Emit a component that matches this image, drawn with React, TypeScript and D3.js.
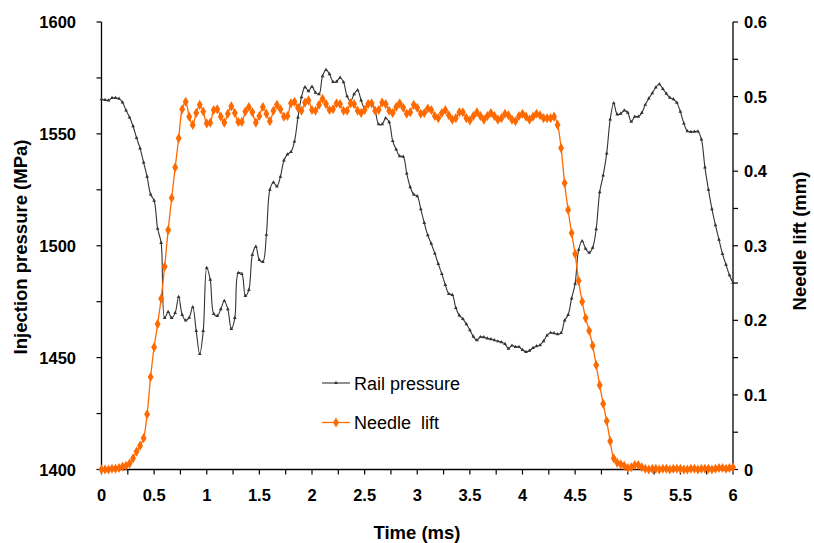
import React from "react";
import * as d3 from "d3";

// sampling interval of both traces (ms)
const timeStepMs = 1 / 30;

// Rail pressure (MPa), one value per sample
const railPressure = [
  1565.5, 1565.2, 1565.0, 1566.1, 1566.1, 1565.7, 1564.1, 1560.5, 1557.4, 1553.4,
  1548.2, 1543.5, 1537.2, 1530.9, 1522.9, 1520.2, 1507.6, 1501.3, 1467.7, 1470.4,
  1467.7, 1470.0, 1477.1, 1469.1, 1466.6, 1467.9, 1472.6, 1461.9, 1451.6, 1461.9,
  1490.1, 1484.8, 1469.5, 1468.6, 1471.7, 1475.3, 1471.7, 1462.8, 1467.7, 1487.9,
  1487.4, 1477.6, 1480.3, 1496.0, 1499.6, 1493.7, 1492.8, 1504.9, 1525.1, 1528.3,
  1526.5, 1530.9, 1538.1, 1540.8, 1541.9, 1546.6, 1557.4, 1566.4, 1570.9, 1569.1,
  1571.1, 1568.4, 1567.7, 1575.8, 1578.6, 1576.7, 1573.2, 1573.3, 1575.1, 1573.1,
  1566.8, 1564.6, 1567.7, 1569.5, 1565.0, 1561.4, 1564.1, 1563.9, 1560.5, 1554.3,
  1554.3, 1557.0, 1555.2, 1546.8, 1543.0, 1540.0, 1539.8, 1532.3, 1526.2, 1522.9,
  1522.2, 1516.4, 1510.2, 1504.7, 1500.9, 1496.6, 1491.9, 1487.4, 1482.5, 1478.5,
  1478.0, 1472.2, 1468.9, 1467.3, 1465.0, 1462.3, 1459.4, 1457.8, 1459.2, 1459.1,
  1458.6, 1458.3, 1457.8, 1457.3, 1456.9, 1456.1, 1454.0, 1455.4, 1454.8, 1454.8,
  1453.4, 1452.6, 1453.1, 1454.3, 1455.1, 1455.6, 1457.4, 1459.9, 1461.1, 1460.9,
  1460.5, 1461.0, 1466.6, 1469.1, 1476.5, 1483.0, 1498.2, 1502.1, 1498.7, 1496.9,
  1499.1, 1507.4, 1524.0, 1531.4, 1541.3, 1556.5, 1563.7, 1558.7, 1559.0, 1560.5,
  1559.5, 1555.4, 1557.7, 1557.7, 1559.4, 1563.0, 1565.8, 1568.2, 1570.8, 1572.2,
  1570.1, 1568.0, 1566.2, 1565.5, 1563.9, 1559.9, 1554.7, 1551.2, 1550.9, 1551.0,
  1551.1, 1547.5, 1535.0, 1525.1, 1516.4, 1509.2, 1502.7, 1496.4, 1491.5, 1486.8,
  1483.4,
];

// Needle lift (mm), one value per sample
const needleLift = [
  0.000, 0.000, 0.000, 0.001, 0.001, 0.002, 0.004, 0.005, 0.008, 0.015,
  0.024, 0.032, 0.042, 0.074, 0.124, 0.164, 0.195, 0.229, 0.272, 0.321,
  0.364, 0.405, 0.444, 0.483, 0.493, 0.473, 0.462, 0.478, 0.489, 0.480,
  0.464, 0.465, 0.482, 0.483, 0.473, 0.465, 0.477, 0.487, 0.478, 0.466,
  0.466, 0.480, 0.486, 0.479, 0.465, 0.474, 0.486, 0.477, 0.467, 0.481,
  0.489, 0.483, 0.473, 0.474, 0.491, 0.493, 0.485, 0.481, 0.492, 0.495,
  0.482, 0.481, 0.489, 0.497, 0.490, 0.482, 0.483, 0.491, 0.490, 0.481,
  0.481, 0.491, 0.490, 0.481, 0.478, 0.482, 0.490, 0.491, 0.481, 0.482,
  0.492, 0.490, 0.481, 0.478, 0.486, 0.491, 0.485, 0.477, 0.479, 0.489,
  0.485, 0.477, 0.478, 0.484, 0.482, 0.474, 0.471, 0.478, 0.482, 0.475,
  0.469, 0.471, 0.479, 0.479, 0.471, 0.468, 0.474, 0.479, 0.474, 0.469,
  0.474, 0.478, 0.474, 0.469, 0.471, 0.477, 0.475, 0.469, 0.467, 0.474,
  0.477, 0.473, 0.469, 0.473, 0.477, 0.475, 0.471, 0.471, 0.471, 0.473,
  0.462, 0.431, 0.384, 0.348, 0.317, 0.289, 0.253, 0.225, 0.203, 0.186,
  0.166, 0.140, 0.113, 0.088, 0.065, 0.038, 0.015, 0.009, 0.007, 0.005,
  0.002, 0.003, 0.006, 0.006, 0.003, 0.001, 0.000, 0.001, 0.001, 0.000,
  0.001, 0.001, 0.000, 0.001, 0.001, 0.001, 0.000, 0.000, 0.001, 0.001,
  0.000, 0.001, 0.001, 0.001, 0.000, 0.001, 0.002, 0.002, 0.001, 0.002,
  0.003,
];

const timeTicks = [0, 0.5, 1, 1.5, 2, 2.5, 3, 3.5, 4, 4.5, 5, 5.5, 6];
const pressureTicks = [1400, 1450, 1500, 1550, 1600];
const liftTicks = [0, 0.1, 0.2, 0.3, 0.4, 0.5, 0.6];

const W = 814;
const H = 543;
const FONT = "'Liberation Sans', Arial, sans-serif";
const ORANGE = "#FF6A00";
const DARK = "#333333";

export default function App() {
  const x = d3.scaleLinear().domain([0, 6]).range([101.5, 733]);
  const yP = d3.scaleLinear().domain([1400, 1600]).range([469.5, 22]);
  const yL = d3.scaleLinear().domain([0, 0.6]).range([469.5, 22]);

  const rail = railPressure.map((v, i) => [i * timeStepMs, v] as [number, number]);
  const lift = needleLift.map((v, i) => [i * timeStepMs, v] as [number, number]);

  const railLine = d3
    .line<[number, number]>()
    .x((d) => x(d[0]))
    .y((d) => yP(d[1]))
    .curve(d3.curveCatmullRom.alpha(0.5));
  const liftLine = d3
    .line<[number, number]>()
    .x((d) => x(d[0]))
    .y((d) => yL(d[1]))
    .curve(d3.curveCatmullRom.alpha(0.5));

  const tri = d3.symbol().type(d3.symbolTriangle).size(6)() as string;
  const dia = d3.symbol().type(d3.symbolDiamond).size(30)() as string;

  const minorTime = d3.range(0, 6.0001, 0.25);
  const minorP = d3.range(1400, 1600.001, 25);
  const minorL = d3.range(0, 0.6001, 0.05);

  const [x0, x1] = x.range();
  const yb = yP(1400);
  const yt = yP(1600);

  return (
    <svg
      width={W}
      height={H}
      style={{ position: "absolute", left: 0, top: 0, background: "#fff" }}
      fontFamily={FONT}
    >
      <rect x={0} y={0} width={W} height={H} fill="#fff" />
      {/* axes lines */}
      <line x1={x0} x2={x0} y1={yt} y2={yb} stroke="#000" strokeWidth={1.3} />
      <line x1={x1} x2={x1} y1={yt} y2={yb} stroke="#000" strokeWidth={1.3} />
      <line x1={x0} x2={x1} y1={yb} y2={yb} stroke="#000" strokeWidth={1.3} />

      {/* ticks */}
      {minorTime.map((t) => (
        <line key={"tx" + t} x1={x(t)} x2={x(t)} y1={yb} y2={yb + 5} stroke="#000" strokeWidth={1.2} />
      ))}
      {minorP.map((p) => (
        <line key={"tp" + p} x1={x0 - 5} x2={x0} y1={yP(p)} y2={yP(p)} stroke="#000" strokeWidth={1.2} />
      ))}
      {minorL.map((l) => (
        <line key={"tl" + l} x1={x1} x2={x1 + 5} y1={yL(l)} y2={yL(l)} stroke="#000" strokeWidth={1.2} />
      ))}

      {/* tick labels */}
      {timeTicks.map((t) => (
        <text key={"lx" + t} x={x(t)} y={501} textAnchor="middle" fontSize={16.5} fontWeight="bold">
          {String(t)}
        </text>
      ))}
      {pressureTicks.map((p) => (
        <text key={"lp" + p} x={76} y={yP(p) + 6} textAnchor="end" fontSize={16.5} fontWeight="bold">
          {String(p)}
        </text>
      ))}
      {liftTicks.map((l) => (
        <text key={"ll" + l} x={744} y={yL(l) + 6} textAnchor="start" fontSize={16.5} fontWeight="bold">
          {String(l)}
        </text>
      ))}

      {/* axis titles */}
      <text x={417} y={539} textAnchor="middle" fontSize={18.5} fontWeight="bold">
        Time (ms)
      </text>
      <text
        transform="translate(27,247) rotate(-90)"
        textAnchor="middle"
        fontSize={18.5}
        fontWeight="bold"
      >
        Injection pressure (MPa)
      </text>
      <text
        transform="translate(806,241) rotate(-90)"
        textAnchor="middle"
        fontSize={18.5}
        fontWeight="bold"
      >
        Needle lift (mm)
      </text>

      {/* series */}
      <path d={railLine(rail) || ""} fill="none" stroke={DARK} strokeWidth={1.1} />
      {rail.map((d, i) => (
        <path key={"rm" + i} d={tri} transform={`translate(${x(d[0])},${yP(d[1])})`} fill={DARK} />
      ))}
      <path d={liftLine(lift) || ""} fill="none" stroke={ORANGE} strokeWidth={1.3} />
      {lift.map((d, i) => (
        <path key={"lm" + i} d={dia} transform={`translate(${x(d[0])},${yL(d[1])})`} fill={ORANGE} />
      ))}

      {/* legend */}
      <line x1={322} x2={350} y1={383} y2={383} stroke={DARK} strokeWidth={1.1} />
      <path d={tri} transform="translate(336,383)" fill={DARK} />
      <text x={354} y={389.5} fontSize={18}>
        Rail pressure
      </text>
      <line x1={322} x2={350} y1={422.5} y2={422.5} stroke={ORANGE} strokeWidth={1.3} />
      <path d={dia} transform="translate(336,422.5)" fill={ORANGE} />
      <text x={354} y={429} fontSize={18} style={{ whiteSpace: "pre" }}>
        {"Needle  lift"}
      </text>
    </svg>
  );
}
